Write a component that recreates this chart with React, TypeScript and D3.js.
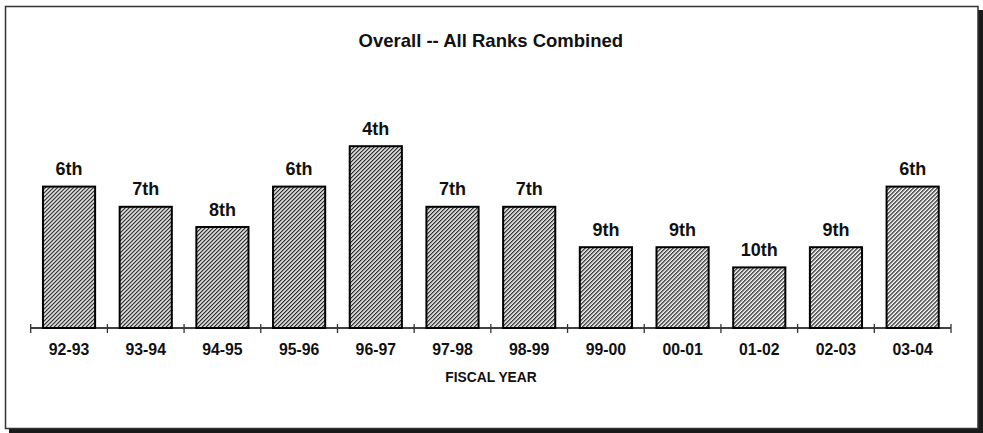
import React from "react";
import * as d3 from "d3";

const years = ["92-93", "93-94", "94-95", "95-96", "96-97", "97-98", "98-99", "99-00", "00-01", "01-02", "02-03", "03-04"];
const ranks = [6, 7, 8, 6, 4, 7, 7, 9, 9, 10, 9, 6];
const rankLabels = ["6th", "7th", "8th", "6th", "4th", "7th", "7th", "9th", "9th", "10th", "9th", "6th"];
const title = "Overall -- All Ranks Combined";
const xTitle = "FISCAL YEAR";

const W = 983;
const H = 433;
const FONT = "'Liberation Sans', Arial, sans-serif";

export default function App() {
  const x0 = 30.7;
  const x1 = 951;
  const baseY = 328;
  const x = d3.scaleBand<string>().domain(years).range([x0, x1]).paddingInner(0.32).paddingOuter(0.16);
  const y = d3.scaleLinear().domain([13, 0]).range([baseY, baseY - 13 * 20.2]);
  const step = x.step();
  const tickXs = d3.range(years.length + 1).map((i) => x0 + i * step);
  const cx = (x0 + x1) / 2;

  return (
    <div style={{ position: "absolute", left: 0, top: 0, width: W, height: H }}>
      <svg width={W} height={H} style={{ display: "block" }}>
        <defs>
          <pattern id="hatch" patternUnits="userSpaceOnUse" width={2.83} height={10} patternTransform="rotate(45)">
            <rect x={0} y={0} width={2.83} height={10} fill="#ffffff" />
            <rect x={0} y={0} width={1.3} height={10} fill="#2a2a2a" />
          </pattern>
        </defs>
        <rect x={0} y={0} width={W} height={H} fill="#ffffff" />
        {/* frame shadow */}
        <rect x={9} y={10} width={W - 9} height={H - 10} fill="#1a1a1a" />
        <rect x={5.5} y={6.5} width={972.5} height={422} fill="#ffffff" stroke="#333" strokeWidth={1.5} />

        <text x={cx} y={46.7} textAnchor="middle" fontFamily={FONT} fontWeight="bold" fontSize={18.5} fill="#111">
          {title}
        </text>

        {years.map((yr, i) => {
          const bx = x(yr) as number;
          const top = y(ranks[i]);
          return (
            <g key={yr}>
              <rect x={bx} y={top} width={x.bandwidth()} height={baseY - top} fill="url(#hatch)" stroke="#000" strokeWidth={2} />
              <text x={bx + x.bandwidth() / 2} y={top - 11.5} textAnchor="middle" fontFamily={FONT} fontWeight="bold" fontSize={18} fill="#111">
                {rankLabels[i]}
              </text>
              <text x={bx + x.bandwidth() / 2} y={355} textAnchor="middle" fontFamily={FONT} fontWeight="bold" fontSize={15.8} fill="#111">
                {yr}
              </text>
            </g>
          );
        })}

        <line x1={x0} x2={x1} y1={baseY} y2={baseY} stroke="#000" strokeWidth={1.3} />
        {tickXs.map((tx, i) => (
          <line key={i} x1={tx} x2={tx} y1={324} y2={333} stroke="#333" strokeWidth={1.3} />
        ))}

        <text x={491} y={382.3} textAnchor="middle" fontFamily={FONT} fontWeight="bold" fontSize={13.8} fill="#111">
          {xTitle}
        </text>
      </svg>
    </div>
  );
}
